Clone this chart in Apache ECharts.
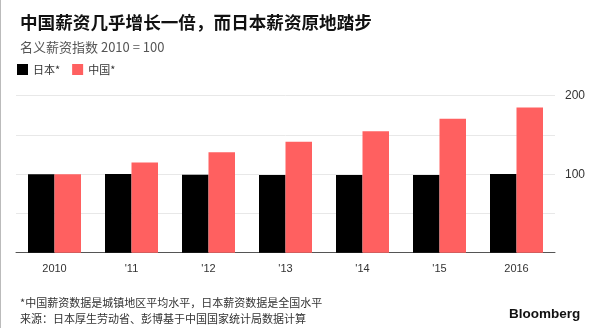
<!DOCTYPE html>
<html><head><meta charset="utf-8">
<script src="https://cdn.jsdelivr.net/npm/echarts@6/dist/echarts.min.js"></script>
<style>html,body{margin:0;padding:0;background:#fff}#c{width:600px;height:328px}</style>
</head><body><div id="c"></div>
<script>
const categories = ['2010', "'11", "'12", "'13", "'14", "'15", '2016'];
const japan = [100, 100.2, 99.2, 99.0, 99.1, 99.1, 100.1];
const china = [100, 114.8, 128, 141.2, 154.8, 170.5, 185];
const yTicks = [100, 200];
const seriesNames = ['日本*', '中国*'];

const chart = echarts.init(document.getElementById('c'), null, {renderer: 'canvas'});
const font = '"Noto Sans CJK SC", "Liberation Sans", sans-serif';
chart.setOption({
  animation: false,
  backgroundColor: '#fff',
  textStyle: {fontFamily: font},
  title: [
    {text: '中国薪资几乎增长一倍，而日本薪资原地踏步', left: 15, top: 9,
     textStyle: {fontSize: 17.6, fontWeight: 'bold', color: '#111', fontFamily: font}},
    {text: '名义薪资指数 2010 = 100', left: 15, top: 36,
     textStyle: {fontSize: 13, fontWeight: 'normal', color: '#555', fontFamily: font}},
    {text: '*中国薪资数据是城镇地区平均水平，日本薪资数据是全国水平\n来源：日本厚生劳动省、彭博基于中国国家统计局数据计算', left: 15, top: 290,
     textStyle: {fontSize: 11, fontWeight: 'normal', color: '#333', lineHeight: 16, fontFamily: font}},
    {text: 'Bloomberg', left: 504, top: 302,
     textStyle: {fontSize: 13.5, fontWeight: 'bold', color: '#111', fontFamily: '"Liberation Sans", Arial, sans-serif'}}
  ],
  legend: {
    left: 12, top: 59, itemWidth: 11, itemHeight: 11, itemGap: 12,
    icon: 'rect', textStyle: {fontSize: 11, color: '#333', fontFamily: font},
    data: seriesNames
  },
  grid: {left: 16, right: 45, top: 95.7, bottom: 75.3, containLabel: false},
  xAxis: {
    type: 'category', data: categories,
    axisLine: {lineStyle: {color: '#555', width: 1}},
    axisTick: {alignWithLabel: true, length: 5, lineStyle: {color: '#555'}},
    axisLabel: {fontSize: 11, color: '#333', margin: 11, fontFamily: '"Liberation Sans", Arial, sans-serif'}
  },
  yAxis: {
    type: 'value', position: 'right', min: 0, max: 200, interval: 50,
    axisLine: {show: false}, axisTick: {show: false},
    splitLine: {lineStyle: {color: '#e8e8e8', width: 1}},
    axisLabel: {fontSize: 12, color: '#333', margin: 10, fontFamily: '"Liberation Sans", Arial, sans-serif',
      formatter: v => yTicks.indexOf(v) >= 0 ? String(v) : ''}
  },
  graphic: [{type: 'line', shape: {x1: 0.5, y1: 0, x2: 0.5, y2: 328}, style: {stroke: '#bbb', lineWidth: 1}}],
  series: [
    {name: seriesNames[0], type: 'bar', data: japan, barWidth: 26.5, barGap: '0%', itemStyle: {color: '#000'}},
    {name: seriesNames[1], type: 'bar', data: china, barWidth: 26.5, itemStyle: {color: '#ff6060'}}
  ]
});
</script></body></html>
